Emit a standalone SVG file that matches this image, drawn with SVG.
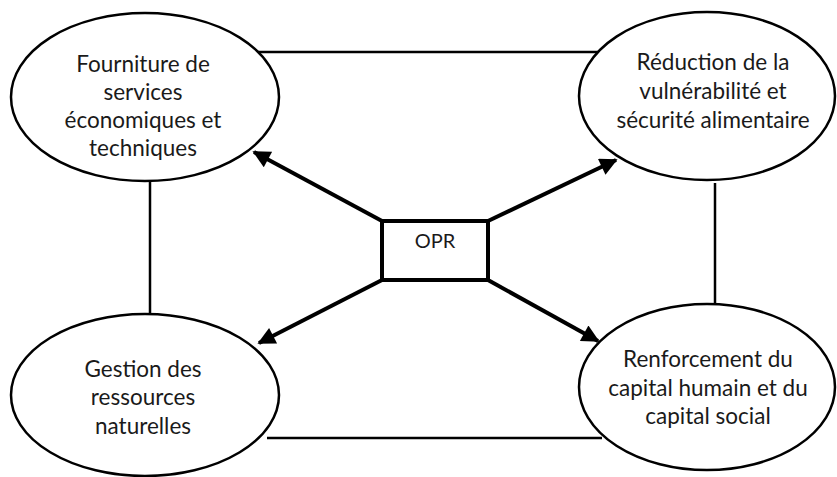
<svg xmlns="http://www.w3.org/2000/svg" width="837" height="477" viewBox="0 0 837 477">
<style>
.node ellipse{fill:#fff;stroke:#000;stroke-width:2.5}
.lbl{font-family:Lato,"Open Sans","DejaVu Sans",sans-serif;font-size:22.5px;fill:#1a1a1a;text-anchor:middle}
.link{stroke:#000;stroke-width:2.5;fill:none}
.arrow{stroke:#000;stroke-width:4;fill:none;marker-end:url(#ah)}
</style>
<defs>
<marker id="ah" viewBox="0 0 10 10" refX="9" refY="5" markerWidth="5.2" markerHeight="4.4" orient="auto" markerUnits="strokeWidth">
<path d="M0,0 L10,5 L0,10 z" fill="#000"/>
</marker>
</defs>
<rect width="837" height="477" fill="#fff"/>
<g id="connectors">
<line class="link" x1="258" y1="52" x2="600" y2="52"/>
<line class="link" x1="150" y1="181" x2="150" y2="314"/>
<line class="link" x1="715" y1="183" x2="715" y2="304"/>
<line class="link" x1="267" y1="438" x2="602" y2="438"/>
<line class="arrow" x1="382" y1="221" x2="254" y2="152"/>
<line class="arrow" x1="488" y1="221" x2="616" y2="160"/>
<line class="arrow" x1="382" y1="280" x2="259" y2="343"/>
<line class="arrow" x1="488" y1="280" x2="598" y2="341"/>
</g>
<g id="n1" class="node">
<ellipse cx="145" cy="97" rx="134" ry="84"/>
<text class="lbl" x="143" y="72">Fourniture de</text>
<text class="lbl" x="143" y="100">services</text>
<text class="lbl" x="143" y="128">économiques et</text>
<text class="lbl" x="143" y="156">techniques</text>
</g>
<g id="n2" class="node">
<ellipse cx="707" cy="96" rx="128" ry="84"/>
<text class="lbl" x="713" y="70">Réduction de la</text>
<text class="lbl" x="713" y="99">vulnérabilité et</text>
<text class="lbl" x="713" y="128">sécurité alimentaire</text>
</g>
<g id="n3" class="node">
<ellipse cx="145" cy="395" rx="134" ry="81"/>
<text class="lbl" x="143" y="377">Gestion des</text>
<text class="lbl" x="143" y="405">ressources</text>
<text class="lbl" x="143" y="434">naturelles</text>
</g>
<g id="n4" class="node">
<ellipse cx="707" cy="387" rx="128" ry="83"/>
<text class="lbl" x="708" y="367">Renforcement du</text>
<text class="lbl" x="708" y="396">capital humain et du</text>
<text class="lbl" x="708" y="424">capital social</text>
</g>
<g id="opr" class="node">
<rect x="382" y="221" width="106" height="59" fill="#fff" stroke="#000" stroke-width="4"/>
<text class="lbl" x="435" y="248" style="font-size:20px">OPR</text>
</g>
</svg>
